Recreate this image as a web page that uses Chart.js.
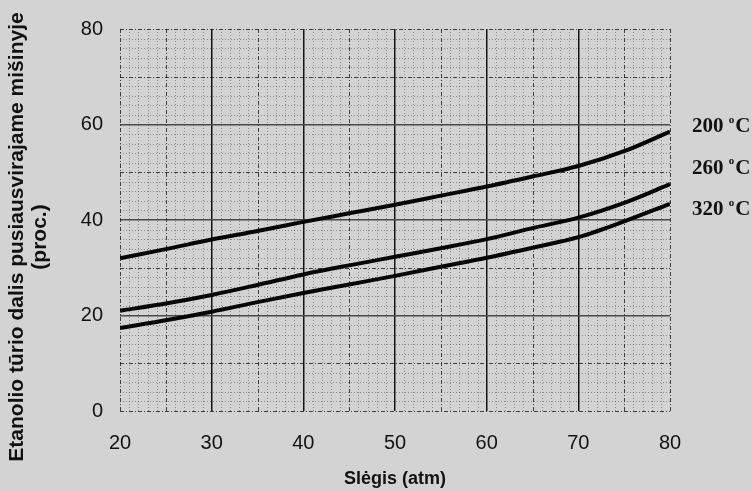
<!DOCTYPE html>
<html>
<head>
<meta charset="utf-8">
<title>Etanolio tūrio dalis</title>
<style>
  html, body { margin: 0; padding: 0; background: #d3d3d3; }
  #wrap { width: 752px; height: 491px; }
</style>
</head>
<body>
<div id="wrap"><canvas id="myChart" width="752" height="491"></canvas></div>
<script src="https://cdn.jsdelivr.net/npm/chart.js@4/dist/chart.umd.min.js"></script>
<script>
'use strict';
//Global Variables
const pressure = [20, 25, 30, 35, 40, 45, 50, 55, 60, 65, 70, 75, 80];
const temp200 = [32.0, 33.9, 35.9, 37.7, 39.6, 41.4, 43.2, 45.1, 47.0, 49.1, 51.3, 54.4, 58.5];
const temp260 = [21.0, 22.5, 24.3, 26.4, 28.6, 30.5, 32.3, 34.1, 36.0, 38.3, 40.5, 43.6, 47.5];
const temp320 = [17.4, 19.0, 20.8, 22.8, 24.7, 26.5, 28.3, 30.2, 32.1, 34.2, 36.4, 39.7, 43.4];
const seriesNames = ['200', '260', '320'];
const xTitle = 'Slėgis (atm)';
const yTitle = ['Etanolio tūrio dalis pusiausvirajame mišinyje', '(proc.)'];
const chart_myChart = document.getElementById('myChart').getContext('2d');

const sansFont = "'Liberation Sans', Arial, sans-serif";
const serifFont = "'Liberation Serif', 'Times New Roman', serif";

//Helper functions
function toPoints(values){
  const points = [];
  for(let i = 0; i < pressure.length; i++){
    points.push({x: pressure[i], y: values[i]});
  }
  return points;
}

function makeDataset(name, values){
  return {
    label: name,
    data: toPoints(values),
    borderColor: '#050505',
    borderWidth: 4,
    pointRadius: 0,
    fill: false,
    cubicInterpolationMode: 'monotone'
  };
}

//Plugins
// graph paper: dotted minor lines, dashed half-step lines
const paperGrid = {
  id: 'paperGrid',
  beforeDatasetsDraw(chart){
    const {ctx, chartArea, scales} = chart;
    const x = scales.x;
    const y = scales.y;
    ctx.save();
    ctx.lineWidth = 1;
    for(let v = 20; v <= 80; v++){
      if(v % 10 === 0 && v !== 20 && v !== 80) continue;
      const px = Math.round(x.getPixelForValue(v)) + 0.5;
      const medium = v % 5 === 0;
      ctx.strokeStyle = medium ? 'rgba(25,25,25,0.8)' : 'rgba(50,50,50,0.45)';
      ctx.setLineDash(medium ? [4, 2, 1, 2] : [1, 2]);
      ctx.beginPath();
      ctx.moveTo(px, chartArea.top);
      ctx.lineTo(px, chartArea.bottom);
      ctx.stroke();
    }
    for(let v = 0; v <= 80; v += 2){
      if(v % 20 === 0 && v !== 0 && v !== 80) continue;
      const py = Math.round(y.getPixelForValue(v)) + 0.5;
      const medium = v % 10 === 0;
      ctx.strokeStyle = medium ? 'rgba(25,25,25,0.8)' : 'rgba(50,50,50,0.45)';
      ctx.setLineDash(medium ? [4, 2, 1, 2] : [1, 2]);
      ctx.beginPath();
      ctx.moveTo(chartArea.left, py);
      ctx.lineTo(chartArea.right, py);
      ctx.stroke();
    }
    ctx.restore();
  }
};

// y title is a bit below the axis middle in the original
const sideTexts = {
  id: 'sideTexts',
  afterDraw(chart){
    const {ctx, chartArea, scales} = chart;
    ctx.save();
    ctx.fillStyle = '#111';
    ctx.textAlign = 'center';
    ctx.textBaseline = 'middle';
    ctx.font = 'bold 21px ' + sansFont;
    ctx.translate(17, 237);
    ctx.rotate(-Math.PI / 2);
    ctx.fillText(yTitle[0], 0, 0);
    ctx.fillText(yTitle[1], 0, 23);
    ctx.restore();

    // temperature labels on the right
    const labelValues = [59.5, 50.8, 42.1];
    ctx.save();
    ctx.fillStyle = '#111';
    ctx.textBaseline = 'middle';
    ctx.textAlign = 'left';
    for(let i = 0; i < seriesNames.length; i++){
      const lx = chartArea.right + 22;
      const ly = scales.y.getPixelForValue(labelValues[i]);
      ctx.font = 'bold 21px ' + serifFont;
      const w = ctx.measureText(seriesNames[i] + ' ').width;
      ctx.fillText(seriesNames[i] + ' ', lx, ly);
      ctx.font = 'bold 11px ' + serifFont;
      ctx.fillText('o', lx + w, ly - 7);
      const ow = ctx.measureText('o').width;
      ctx.font = 'bold 21px ' + serifFont;
      ctx.fillText('C', lx + w + ow + 1, ly);
    }
    ctx.restore();
  }
};

//chart
const chart = new Chart(chart_myChart, {
  type: 'line',
  data: {
    datasets: [
      makeDataset('200 °C', temp200),
      makeDataset('260 °C', temp260),
      makeDataset('320 °C', temp320)
    ]
  },
  options: {
    responsive: false,
    animation: false,
    devicePixelRatio: 1,
    layout: {
      padding: {top: 22, right: 82, left: 0, bottom: 0}
    },
    plugins: {
      legend: {display: false},
      tooltip: {enabled: false}
    },
    scales: {
      x: {
        type: 'linear',
        min: 20,
        max: 80,
        border: {display: false},
        ticks: {
          stepSize: 10,
          padding: 20,
          color: '#111',
          font: {family: sansFont, size: 20}
        },
        grid: {
          drawTicks: false,
          lineWidth: 1.5,
          color: (ctx) => (ctx.tick && (ctx.tick.value === 20 || ctx.tick.value === 80)) ? 'rgba(0,0,0,0)' : '#141414'
        },
        title: {
          display: true,
          text: xTitle,
          color: '#111',
          font: {family: sansFont, size: 18, weight: 'bold'},
          padding: {top: 0, bottom: 1}
        },
        afterFit(scale){ scale.height = 80; }
      },
      y: {
        min: 0,
        max: 80,
        border: {display: false},
        ticks: {
          stepSize: 20,
          padding: 17,
          color: '#111',
          font: {family: sansFont, size: 20}
        },
        grid: {
          drawTicks: false,
          lineWidth: 1.5,
          color: (ctx) => (ctx.tick && (ctx.tick.value === 0 || ctx.tick.value === 80)) ? 'rgba(0,0,0,0)' : '#4a4a4a'
        },
        afterFit(scale){ scale.width = 120; }
      }
    }
  },
  plugins: [paperGrid, sideTexts]
});
</script>
</body>
</html>
